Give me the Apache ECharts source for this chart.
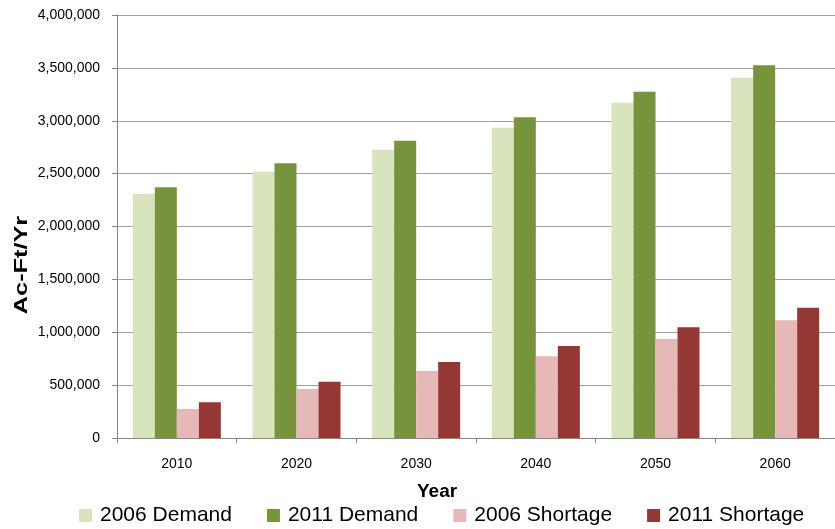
<!DOCTYPE html>
<html>
<head>
<meta charset="utf-8">
<script src="https://cdn.jsdelivr.net/npm/echarts@6/dist/echarts.min.js"></script>
<style>
html,body{margin:0;padding:0;background:#fff;}
#chart{width:835px;height:529px;}
</style>
</head>
<body>
<div id="chart"></div>
<script>
const years = ['2010','2020','2030','2040','2050','2060'];
const demand2006 = [2310000, 2518000, 2726000, 2934000, 3171000, 3407000];
const demand2011 = [2371000, 2598000, 2811000, 3032000, 3275000, 3524000];
const shortage2006 = [274000, 463000, 634000, 772000, 936000, 1113000];
const shortage2011 = [338000, 533000, 719000, 870000, 1047000, 1232000];
const seriesNames = ['2006 Demand','2011 Demand','2006 Shortage','2011 Shortage'];
const colors = ['#D7E4BD','#77933C','#E6B9B8','#953735'];
const yTitle = 'Ac-Ft/Yr';
const xTitle = 'Year';

const font = '"Liberation Sans", Arial, sans-serif';
const chart = echarts.init(document.getElementById('chart'), null, {renderer:'canvas'});
const data = [demand2006, demand2011, shortage2006, shortage2011];
chart.setOption({
  animation: false,
  backgroundColor: '#ffffff',
  textStyle: {fontFamily: font},
  grid: {left: 117, top: 15, width: 727, height: 423, containLabel: false},
  xAxis: {
    type: 'category',
    data: years,
    axisLine: {lineStyle: {color: '#868686', width: 1}},
    axisTick: {show: true, length: 5, alignWithLabel: false, lineStyle: {color: '#868686'}},
    axisLabel: {fontFamily: font, fontSize: 14, color: '#000', margin: 19}
  },
  yAxis: {
    type: 'value',
    min: 0, max: 4000000, interval: 500000,
    axisLine: {show: true, lineStyle: {color: '#868686', width: 1}},
    axisTick: {show: true, length: 5, lineStyle: {color: '#868686'}},
    splitLine: {lineStyle: {color: '#A0A0A0', width: 1}},
    axisLabel: {
      fontFamily: font, fontSize: 14, color: '#000', margin: 17,
      formatter: v => v.toLocaleString('en-US')
    }
  },
  legend: {
    left: 74, top: 500,
    icon: 'rect', itemWidth: 13, itemHeight: 13, itemGap: 35,
    textStyle: {fontFamily: font, fontSize: 21, color: '#000', padding: [0,0,0,3]},
    data: seriesNames
  },
  graphic: [
    {type: 'text', left: 417, top: 482,
     style: {text: xTitle, font: 'bold 19px ' + font, fill: '#000'}},
    {type: 'text', x: 12, y: 265, rotation: Math.PI/2, scaleX: 1.33,
     style: {text: yTitle, font: 'bold 19px ' + font, fill: '#000', align: 'center', verticalAlign: 'top'}}
  ],
  series: seriesNames.map((n, i) => ({
    name: n, type: 'bar', data: data[i], barWidth: 22, barGap: '0%',
    itemStyle: {color: colors[i]}
  }))
});
</script>
</body>
</html>
